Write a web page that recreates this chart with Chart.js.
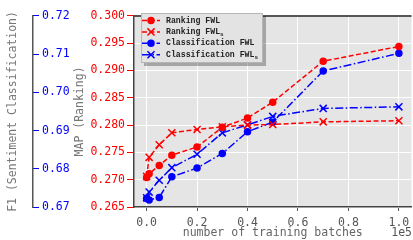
<!DOCTYPE html>
<html>
<head>
<meta charset="utf-8">
<script src="https://cdn.jsdelivr.net/npm/chart.js@4.4.0/dist/chart.umd.min.js"></script>
<style>
  html, body { margin: 0; padding: 0; background: #fff; overflow: hidden; }
  canvas { display: block; }
</style>
</head>
<body>
<canvas id="chart" width="418" height="240"></canvas>
<script>
// number of training batches (axis shows them in units of 1e5)
const batches = [0, 1000, 5000, 10000, 20000, 30000, 40000, 50000, 70000, 100000];

// MAP, ranking task (red axis)
const rankingFwl  = [0.2704, 0.2711, 0.2726, 0.2745, 0.2760, 0.2796, 0.2813, 0.2842, 0.2917, 0.2944];
const rankingFwlS = [0.2706, 0.2741, 0.2764, 0.2786, 0.2792, 0.2797, 0.2800, 0.2801, 0.2806, 0.2808];

// F1, sentiment classification (blue axis)
const classFwl  = [0.6722, 0.6718, 0.6725, 0.6779, 0.6802, 0.6840, 0.6897, 0.6922, 0.7056, 0.7102];
const classFwlS = [0.6724, 0.6739, 0.6770, 0.6803, 0.6838, 0.6894, 0.6915, 0.6937, 0.6958, 0.6962];

const seriesLabels = ['Ranking FWL', 'Ranking FWL_s', 'Classification FWL', 'Classification FWL_s'];

const batchTicks = [0, 20000, 40000, 60000, 80000, 100000];
const mapTicks = [0.265, 0.270, 0.275, 0.280, 0.285, 0.290, 0.295, 0.300];
const f1Ticks = [0.67, 0.68, 0.69, 0.70, 0.71, 0.72];

const MONO = "'DejaVu Sans Mono', monospace";
const RED = '#ff0000';
const BLUE = '#0000ff';
const RED_DASH = [5, 2.5];
const BLUE_DASH = [8, 2.5, 1.5, 2.5];

function pts(values) {
  return batches.map(function (b, i) { return { x: b, y: values[i] }; });
}

function series(label, values, color, dash, style, axis) {
  return {
    label: label,
    data: pts(values),
    yAxisID: axis,
    borderColor: color,
    backgroundColor: color,
    borderWidth: 1.5,
    borderDash: dash,
    pointStyle: style,
    pointRadius: style === 'circle' ? 3 : 5,
    pointBorderWidth: 1.5,
    pointBorderColor: color,
    pointBackgroundColor: color,
    tension: 0,
    fill: false,
  };
}

function fixedTicks(list) {
  return function (scale) { scale.ticks = list.map(function (v) { return { value: v }; }); };
}

// plot background
const plotBg = {
  id: 'plotBg',
  beforeDraw(chart) {
    const a = chart.chartArea, ctx = chart.ctx;
    ctx.save();
    ctx.fillStyle = '#e5e5e5';
    ctx.fillRect(a.left, a.top, a.right - a.left, a.bottom - a.top);
    ctx.restore();
  },
  afterDatasetsDraw(chart) {
    // top edge of the frame
    const a = chart.chartArea, ctx = chart.ctx;
    ctx.save();
    ctx.strokeStyle = '#555';
    ctx.lineWidth = 2;
    ctx.beginPath();
    ctx.moveTo(a.left, a.top);
    ctx.lineTo(a.right, a.top);
    ctx.stroke();
    ctx.restore();
  },
};

// boxed legend with line samples, plus the 1e5 offset text
const boxLegend = {
  id: 'boxLegend',
  afterDraw(chart) {
    const ctx = chart.ctx;
    const x0 = 141, y0 = 13, w = 122, h = 50;
    ctx.save();
    ctx.fillStyle = 'rgba(0,0,0,0.28)';
    ctx.fillRect(x0 + 3, y0 + 3, w, h);
    ctx.fillStyle = '#e3e3e3';
    ctx.fillRect(x0, y0, w, h);
    ctx.strokeStyle = '#b5b5b5';
    ctx.lineWidth = 1;
    ctx.strokeRect(x0 + 0.5, y0 + 0.5, w - 1, h - 1);

    chart.data.datasets.forEach(function (ds, i) {
      const y = y0 + 7.5 + i * 11.4;
      ctx.strokeStyle = ds.borderColor;
      ctx.fillStyle = ds.borderColor;
      ctx.lineWidth = 1.5;
      ctx.setLineDash(ds.borderDash);
      ctx.beginPath();
      ctx.moveTo(x0 + 1, y);
      ctx.lineTo(x0 + 19, y);
      ctx.stroke();
      ctx.setLineDash([]);
      Chart.helpers.drawPoint(ctx, { pointStyle: ds.pointStyle, radius: ds.pointRadius, rotation: 0, borderWidth: 1.5 }, x0 + 10, y);

      const parts = ds.label.split('_');
      ctx.fillStyle = '#222';
      ctx.font = "bold 8.2px 'Liberation Mono', monospace";
      ctx.textBaseline = 'middle';
      ctx.textAlign = 'left';
      ctx.fillText(parts[0], x0 + 25, y);
      if (parts[1]) {
        const tw = ctx.measureText(parts[0]).width;
        ctx.font = "bold 6px 'Liberation Mono', monospace";
        ctx.fillText(parts[1], x0 + 25 + tw, y + 2.5);
      }
    });

    ctx.fillStyle = '#555';
    ctx.font = '11.5px ' + MONO;
    ctx.textAlign = 'right';
    ctx.textBaseline = 'middle';
    ctx.fillText('1e5', 412, 233);
    ctx.restore();
  },
};

new Chart(document.getElementById('chart'), {
  type: 'line',
  data: {
    datasets: [
      series(seriesLabels[0], rankingFwl, RED, RED_DASH, 'circle', 'y'),
      series(seriesLabels[1], rankingFwlS, RED, RED_DASH, 'crossRot', 'y'),
      series(seriesLabels[2], classFwl, BLUE, BLUE_DASH, 'circle', 'y1'),
      series(seriesLabels[3], classFwlS, BLUE, BLUE_DASH, 'crossRot', 'y1'),
    ],
  },
  options: {
    responsive: false,
    animation: false,
    layout: { padding: { top: 9, right: 1, left: 0, bottom: 0 } },
    plugins: { legend: { display: false }, tooltip: { enabled: false } },
    scales: {
      x: {
        type: 'linear',
        min: -5000,
        max: 105000,
        afterBuildTicks: fixedTicks(batchTicks),
        afterFit: function (s) { s.height = 33; },
        ticks: {
          color: '#555',
          font: { family: MONO, size: 11.5 },
          padding: 5,
          maxRotation: 0,
          autoSkip: false,
          callback: function (v) { return (v / 1e5).toFixed(1); },
        },
        grid: { color: '#ffffff', lineWidth: 1, tickColor: '#555', tickLength: 4 },
        border: { color: '#444', width: 1.5 },
        title: {
          display: true, text: 'number of training batches', color: '#666',
          font: { family: MONO, size: 11.5 }, padding: { top: 0, bottom: 0 },
        },
      },
      y: {
        type: 'linear',
        position: 'left',
        weight: 0,
        min: 0.265,
        max: 0.300,
        afterBuildTicks: fixedTicks(mapTicks),
        afterFit: function (s) { s.width = 101; },
        ticks: {
          color: RED,
          font: { family: MONO, size: 11.5 },
          padding: 2,
          callback: function (v) { return v.toFixed(3); },
        },
        grid: { color: '#ffffff', lineWidth: 1, tickColor: RED, tickLength: 7 },
        border: { color: '#444', width: 1.5 },
        title: {
          display: true, text: 'MAP (Ranking)', color: '#777',
          font: { family: MONO, size: 11.5 }, padding: { top: 40, bottom: 0 },
        },
      },
      y1: {
        type: 'linear',
        position: 'left',
        weight: 1,
        min: 0.67,
        max: 0.72,
        afterBuildTicks: fixedTicks(f1Ticks),
        afterFit: function (s) { s.width = 33; },
        ticks: {
          color: BLUE,
          mirror: true,
          padding: 9,
          font: { family: MONO, size: 11.5 },
          callback: function (v) { return v.toFixed(2); },
        },
        grid: { drawOnChartArea: false, tickColor: BLUE, tickLength: -6 },
        border: { color: '#555', width: 1.5 },
        title: {
          display: true, text: 'F1 (Sentiment Classification)', color: '#777',
          font: { family: MONO, size: 11.5 }, padding: { top: 6, bottom: 0 },
        },
      },
    },
  },
  plugins: [plotBg, boxLegend],
});
</script>
</body>
</html>
